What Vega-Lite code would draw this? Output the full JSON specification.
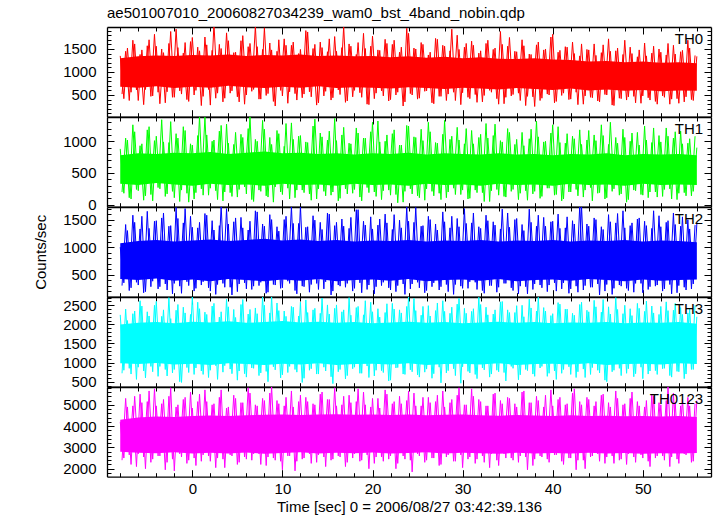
{
"$schema":"https://vega.github.io/schema/vega-lite/v6.json",
"background":"white",
"padding":{"left":33,"top":5,"right":4,"bottom":0},
"spacing":0,
"bounds":"flush",
"config":{
"view":{"stroke":null},
"font":"Liberation Sans",
"axis":{"labelFont":"Liberation Sans","labelFontSize":15,"labelColor":"#000","titleFont":"Liberation Sans","titleFontSize":15,"titleFontWeight":"normal","titleColor":"#000","domainColor":"#000","domainWidth":1.3,"tickColor":"#000","tickWidth":1,"grid":false,"labelOverlap":false,"labelFlush":false,"format":"d","minExtent":0},
"title":{"font":"Liberation Sans","fontSize":15,"fontWeight":"normal","color":"#000","anchor":"start","frame":"group","offset":3},
"text":{"font":"Liberation Sans","fontSize":15,"color":"#000","align":"right","baseline":"alphabetic"}
},
"datasets":{
"th0":[{"t":-8,"v":1350},{"t":-7.6,"v":420},{"t":-7.2,"v":1520},{"t":-6.8,"v":560},{"t":-6.4,"v":1610},{"t":-6,"v":380},{"t":-5.6,"v":1480},{"t":-5.2,"v":620},{"t":-4.8,"v":1700},{"t":-4.4,"v":480},
{"t":-4,"v":1560},{"t":-3.6,"v":310},{"t":-3.2,"v":1420},{"t":-2.8,"v":570},{"t":-2.4,"v":1880},{"t":-2,"v":450},{"t":-1.6,"v":1530},{"t":-1.2,"v":520},{"t":-0.8,"v":1640},{"t":-0.4,"v":360},
{"t":0,"v":1750},{"t":0.4,"v":600},{"t":0.8,"v":1460},{"t":1.2,"v":470},{"t":1.6,"v":1590},{"t":2,"v":280},{"t":2.4,"v":2050},{"t":2.8,"v":540},{"t":3.2,"v":1510},{"t":3.6,"v":430},
{"t":4,"v":1680},{"t":4.4,"v":590},{"t":4.8,"v":1430},{"t":5.2,"v":350},{"t":5.6,"v":1790},{"t":6,"v":500},{"t":6.4,"v":1620},{"t":6.8,"v":620},{"t":7.2,"v":1550},{"t":7.6,"v":410},
{"t":8,"v":1960},{"t":8.4,"v":530},{"t":8.8,"v":1480},{"t":9.2,"v":260},{"t":9.6,"v":1700},{"t":10,"v":480},{"t":10.4,"v":1580},{"t":10.8,"v":570},{"t":11.2,"v":1650},{"t":11.6,"v":390},
{"t":12,"v":1490},{"t":12.4,"v":520},{"t":12.8,"v":1870},{"t":13.2,"v":460},{"t":13.6,"v":1600},{"t":14,"v":330},{"t":14.4,"v":1530},{"t":14.8,"v":580},{"t":15.2,"v":1720},{"t":15.6,"v":440},
{"t":16,"v":1450},{"t":16.4,"v":510},{"t":16.8,"v":1990},{"t":17.2,"v":370},{"t":17.6,"v":1560},{"t":18,"v":600},{"t":18.4,"v":1640},{"t":18.8,"v":450},{"t":19.2,"v":1510},{"t":19.6,"v":290},
{"t":20,"v":1780},{"t":20.4,"v":540},{"t":20.8,"v":1470},{"t":21.2,"v":480},{"t":21.6,"v":1620},{"t":22,"v":400},{"t":22.4,"v":1690},{"t":22.8,"v":560},{"t":23.2,"v":1540},{"t":23.6,"v":350},
{"t":24,"v":1840},{"t":24.4,"v":500},{"t":24.8,"v":1500},{"t":25.2,"v":430},{"t":25.6,"v":1600},{"t":26,"v":590},{"t":26.4,"v":1430},{"t":26.8,"v":310},{"t":27.2,"v":1710},{"t":27.6,"v":470},
{"t":28,"v":1560},{"t":28.4,"v":520},{"t":28.8,"v":1930},{"t":29.2,"v":380},{"t":29.6,"v":1490},{"t":30,"v":550},{"t":30.4,"v":1620},{"t":30.8,"v":420},{"t":31.2,"v":1580},{"t":31.6,"v":340},
{"t":32,"v":1460},{"t":32.4,"v":490},{"t":32.8,"v":1690},{"t":33.2,"v":560},{"t":33.6,"v":1520},{"t":34,"v":300},{"t":34.4,"v":1600},{"t":34.8,"v":450},{"t":35.2,"v":1750},{"t":35.6,"v":510},
{"t":36,"v":1440},{"t":36.4,"v":380},{"t":36.8,"v":1570},{"t":37.2,"v":470},{"t":37.6,"v":1380},{"t":38,"v":250},{"t":38.4,"v":1650},{"t":38.8,"v":430},{"t":39.2,"v":1500},{"t":39.6,"v":500},
{"t":40,"v":1820},{"t":40.4,"v":360},{"t":40.8,"v":1470},{"t":41.2,"v":540},{"t":41.6,"v":1540},{"t":42,"v":410},{"t":42.4,"v":1400},{"t":42.8,"v":290},{"t":43.2,"v":1610},{"t":43.6,"v":480},
{"t":44,"v":1480},{"t":44.4,"v":440},{"t":44.8,"v":1360},{"t":45.2,"v":350},{"t":45.6,"v":1590},{"t":46,"v":500},{"t":46.4,"v":1450},{"t":46.8,"v":270},{"t":47.2,"v":1520},{"t":47.6,"v":420},
{"t":48,"v":1690},{"t":48.4,"v":460},{"t":48.8,"v":1400},{"t":49.2,"v":330},{"t":49.6,"v":1480},{"t":50,"v":480},{"t":50.4,"v":1350},{"t":50.8,"v":390},{"t":51.2,"v":1560},{"t":51.6,"v":300},
{"t":52,"v":1430},{"t":52.4,"v":450},{"t":52.8,"v":1620},{"t":53.2,"v":410},{"t":53.6,"v":1390},{"t":54,"v":320},{"t":54.4,"v":1470},{"t":54.8,"v":460},{"t":55.2,"v":1520},{"t":55.6,"v":380},
{"t":56,"v":1340}],
"th0b":[{"t":-7.8,"v":520},{"t":-7.4,"v":1450},{"t":-7,"v":380},{"t":-6.6,"v":1690},{"t":-6.2,"v":610},{"t":-5.8,"v":1380},{"t":-5.4,"v":290},{"t":-5,"v":1570},{"t":-4.6,"v":470},{"t":-4.2,"v":1820},
{"t":-3.8,"v":560},{"t":-3.4,"v":1500},{"t":-3,"v":330},{"t":-2.6,"v":1620},{"t":-2.2,"v":450},{"t":-1.8,"v":1930},{"t":-1.4,"v":590},{"t":-1,"v":1410},{"t":-0.6,"v":400},{"t":-0.2,"v":1660},
{"t":0.2,"v":500},{"t":0.6,"v":1540},{"t":1,"v":270},{"t":1.4,"v":1760},{"t":1.8,"v":620},{"t":2.2,"v":1470},{"t":2.6,"v":430},{"t":3,"v":1600},{"t":3.4,"v":350},{"t":3.8,"v":1850},
{"t":4.2,"v":540},{"t":4.6,"v":1420},{"t":5,"v":460},{"t":5.4,"v":1680},{"t":5.8,"v":300},{"t":6.2,"v":1550},{"t":6.6,"v":580},{"t":7,"v":2000},{"t":7.4,"v":410},{"t":7.8,"v":1490},
{"t":8.2,"v":490},{"t":8.6,"v":1630},{"t":9,"v":360},{"t":9.4,"v":1450},{"t":9.8,"v":600},{"t":10.2,"v":1720},{"t":10.6,"v":320},{"t":11,"v":1580},{"t":11.4,"v":530},{"t":11.8,"v":1400},
{"t":12.2,"v":440},{"t":12.6,"v":1900},{"t":13,"v":570},{"t":13.4,"v":1510},{"t":13.8,"v":280},{"t":14.2,"v":1650},{"t":14.6,"v":480},{"t":15,"v":1440},{"t":15.4,"v":390},{"t":15.8,"v":1770},
{"t":16.2,"v":610},{"t":16.6,"v":1530},{"t":17,"v":340},{"t":17.4,"v":1610},{"t":17.8,"v":460},{"t":18.2,"v":1380},{"t":18.6,"v":550},{"t":19,"v":1840},{"t":19.4,"v":300},{"t":19.8,"v":1560},
{"t":20.2,"v":420},{"t":20.6,"v":1480},{"t":21,"v":590},{"t":21.4,"v":1710},{"t":21.8,"v":370},{"t":22.2,"v":1600},{"t":22.6,"v":500},{"t":23,"v":1430},{"t":23.4,"v":260},{"t":23.8,"v":1950},
{"t":24.2,"v":530},{"t":24.6,"v":1520},{"t":25,"v":410},{"t":25.4,"v":1640},{"t":25.8,"v":580},{"t":26.2,"v":1370},{"t":26.6,"v":330},{"t":27,"v":1730},{"t":27.4,"v":470},{"t":27.8,"v":1580},
{"t":28.2,"v":380},{"t":28.6,"v":1460},{"t":29,"v":560},{"t":29.4,"v":1800},{"t":29.8,"v":290},{"t":30.2,"v":1540},{"t":30.6,"v":450},{"t":31,"v":1670},{"t":31.4,"v":510},{"t":31.8,"v":1410},
{"t":32.2,"v":350},{"t":32.6,"v":1620},{"t":33,"v":600},{"t":33.4,"v":1490},{"t":33.8,"v":420},{"t":34.2,"v":1880},{"t":34.6,"v":310},{"t":35,"v":1560},{"t":35.4,"v":480},{"t":35.8,"v":1450},
{"t":36.2,"v":540},{"t":36.6,"v":1700},{"t":37,"v":270},{"t":37.4,"v":1390},{"t":37.8,"v":460},{"t":38.2,"v":1590},{"t":38.6,"v":380},{"t":39,"v":1480},{"t":39.4,"v":520},{"t":39.8,"v":1760},
{"t":40.2,"v":330},{"t":40.6,"v":1430},{"t":41,"v":490},{"t":41.4,"v":1550},{"t":41.8,"v":400},{"t":42.2,"v":1650},{"t":42.6,"v":560},{"t":43,"v":1350},{"t":43.4,"v":300},{"t":43.8,"v":1490},
{"t":44.2,"v":450},{"t":44.6,"v":1610},{"t":45,"v":370},{"t":45.4,"v":1420},{"t":45.8,"v":510},{"t":46.2,"v":1720},{"t":46.6,"v":280},{"t":47,"v":1460},{"t":47.4,"v":430},{"t":47.8,"v":1380},
{"t":48.2,"v":390},{"t":48.6,"v":1540},{"t":49,"v":470},{"t":49.4,"v":1330},{"t":49.8,"v":320},{"t":50.2,"v":1630},{"t":50.6,"v":440},{"t":51,"v":1410},{"t":51.4,"v":360},{"t":51.8,"v":1500},
{"t":52.2,"v":480},{"t":52.6,"v":1370},{"t":53,"v":300},{"t":53.4,"v":1580},{"t":53.8,"v":420},{"t":54.2,"v":1440},{"t":54.6,"v":350},{"t":55,"v":1690},{"t":55.4,"v":400},{"t":55.8,"v":1360}],
"th1":[{"t":-8,"v":880},{"t":-7.6,"v":180},{"t":-7.2,"v":1020},{"t":-6.8,"v":90},{"t":-6.4,"v":1150},{"t":-6,"v":220},{"t":-5.6,"v":960},{"t":-5.2,"v":140},{"t":-4.8,"v":1230},{"t":-4.4,"v":60},
{"t":-4,"v":1080},{"t":-3.6,"v":250},{"t":-3.2,"v":990},{"t":-2.8,"v":170},{"t":-2.4,"v":1310},{"t":-2,"v":110},{"t":-1.6,"v":1050},{"t":-1.2,"v":230},{"t":-0.8,"v":1170},{"t":-0.4,"v":40},
{"t":0,"v":940},{"t":0.4,"v":190},{"t":0.8,"v":1390},{"t":1.2,"v":150},{"t":1.6,"v":1100},{"t":2,"v":260},{"t":2.4,"v":1020},{"t":2.8,"v":80},{"t":3.2,"v":1250},{"t":3.6,"v":200},
{"t":4,"v":970},{"t":4.4,"v":130},{"t":4.8,"v":1140},{"t":5.2,"v":240},{"t":5.6,"v":1060},{"t":6,"v":170},{"t":6.4,"v":1400},{"t":6.8,"v":50},{"t":7.2,"v":1000},{"t":7.6,"v":210},
{"t":8,"v":1190},{"t":8.4,"v":120},{"t":8.8,"v":950},{"t":9.2,"v":280},{"t":9.6,"v":1120},{"t":10,"v":160},{"t":10.4,"v":1280},{"t":10.8,"v":90},{"t":11.2,"v":1030},{"t":11.6,"v":230},
{"t":12,"v":1090},{"t":12.4,"v":190},{"t":12.8,"v":980},{"t":13.2,"v":70},{"t":13.6,"v":1350},{"t":14,"v":250},{"t":14.4,"v":1070},{"t":14.8,"v":140},{"t":15.2,"v":1160},{"t":15.6,"v":200},
{"t":16,"v":1010},{"t":16.4,"v":100},{"t":16.8,"v":1220},{"t":17.2,"v":170},{"t":17.6,"v":960},{"t":18,"v":240},{"t":18.4,"v":1130},{"t":18.8,"v":60},{"t":19.2,"v":1050},{"t":19.6,"v":190},
{"t":20,"v":1300},{"t":20.4,"v":130},{"t":20.8,"v":990},{"t":21.2,"v":220},{"t":21.6,"v":1100},{"t":22,"v":150},{"t":22.4,"v":1180},{"t":22.8,"v":30},{"t":23.2,"v":940},{"t":23.6,"v":210},
{"t":24,"v":1240},{"t":24.4,"v":170},{"t":24.8,"v":1060},{"t":25.2,"v":110},{"t":25.6,"v":1010},{"t":26,"v":250},{"t":26.4,"v":1150},{"t":26.8,"v":140},{"t":27.2,"v":970},{"t":27.6,"v":80},
{"t":28,"v":1330},{"t":28.4,"v":200},{"t":28.8,"v":1080},{"t":29.2,"v":160},{"t":29.6,"v":1020},{"t":30,"v":230},{"t":30.4,"v":1200},{"t":30.8,"v":100},{"t":31.2,"v":960},{"t":31.6,"v":190},
{"t":32,"v":1110},{"t":32.4,"v":50},{"t":32.8,"v":1050},{"t":33.2,"v":220},{"t":33.6,"v":1270},{"t":34,"v":150},{"t":34.4,"v":990},{"t":34.8,"v":120},{"t":35.2,"v":1140},{"t":35.6,"v":240},
{"t":36,"v":1030},{"t":36.4,"v":180},{"t":36.8,"v":930},{"t":37.2,"v":70},{"t":37.6,"v":1190},{"t":38,"v":210},{"t":38.4,"v":1070},{"t":38.8,"v":130},{"t":39.2,"v":1000},{"t":39.6,"v":260},
{"t":40,"v":1260},{"t":40.4,"v":160},{"t":40.8,"v":980},{"t":41.2,"v":90},{"t":41.6,"v":1120},{"t":42,"v":200},{"t":42.4,"v":1040},{"t":42.8,"v":140},{"t":43.2,"v":950},{"t":43.6,"v":230},
{"t":44,"v":1170},{"t":44.4,"v":60},{"t":44.8,"v":1010},{"t":45.2,"v":190},{"t":45.6,"v":1090},{"t":46,"v":110},{"t":46.4,"v":1300},{"t":46.8,"v":250},{"t":47.2,"v":970},{"t":47.6,"v":170},
{"t":48,"v":1060},{"t":48.4,"v":80},{"t":48.8,"v":1130},{"t":49.2,"v":220},{"t":49.6,"v":940},{"t":50,"v":150},{"t":50.4,"v":1020},{"t":50.8,"v":200},{"t":51.2,"v":1210},{"t":51.6,"v":120},
{"t":52,"v":990},{"t":52.4,"v":240},{"t":52.8,"v":1080},{"t":53.2,"v":90},{"t":53.6,"v":1150},{"t":54,"v":180},{"t":54.4,"v":960},{"t":54.8,"v":140},{"t":55.2,"v":1040},{"t":55.6,"v":210},
{"t":56,"v":900}],
"th1b":[{"t":-7.8,"v":200},{"t":-7.4,"v":1050},{"t":-7,"v":110},{"t":-6.6,"v":1260},{"t":-6.2,"v":240},{"t":-5.8,"v":930},{"t":-5.4,"v":70},{"t":-5,"v":1180},{"t":-4.6,"v":160},{"t":-4.2,"v":1010},
{"t":-3.8,"v":270},{"t":-3.4,"v":1340},{"t":-3,"v":130},{"t":-2.6,"v":980},{"t":-2.2,"v":210},{"t":-1.8,"v":1120},{"t":-1.4,"v":50},{"t":-1,"v":1230},{"t":-0.6,"v":180},{"t":-0.2,"v":960},
{"t":0.2,"v":90},{"t":0.6,"v":1090},{"t":1,"v":250},{"t":1.4,"v":1380},{"t":1.8,"v":150},{"t":2.2,"v":1000},{"t":2.6,"v":220},{"t":3,"v":1160},{"t":3.4,"v":60},{"t":3.8,"v":1270},
{"t":4.2,"v":190},{"t":4.6,"v":950},{"t":5,"v":120},{"t":5.4,"v":1110},{"t":5.8,"v":280},{"t":6.2,"v":1200},{"t":6.6,"v":80},{"t":7,"v":1030},{"t":7.4,"v":230},{"t":7.8,"v":1330},
{"t":8.2,"v":140},{"t":8.6,"v":1060},{"t":9,"v":40},{"t":9.4,"v":1170},{"t":9.8,"v":200},{"t":10.2,"v":920},{"t":10.6,"v":260},{"t":11,"v":1290},{"t":11.4,"v":110},{"t":11.8,"v":1080},
{"t":12.2,"v":230},{"t":12.6,"v":990},{"t":13,"v":170},{"t":13.4,"v":1240},{"t":13.8,"v":90},{"t":14.2,"v":1130},{"t":14.6,"v":210},{"t":15,"v":1020},{"t":15.4,"v":150},{"t":15.8,"v":1360},
{"t":16.2,"v":60},{"t":16.6,"v":1100},{"t":17,"v":250},{"t":17.4,"v":970},{"t":17.8,"v":180},{"t":18.2,"v":1210},{"t":18.6,"v":120},{"t":19,"v":1050},{"t":19.4,"v":270},{"t":19.8,"v":1150},
{"t":20.2,"v":200},{"t":20.6,"v":1320},{"t":21,"v":80},{"t":21.4,"v":1000},{"t":21.8,"v":230},{"t":22.2,"v":1120},{"t":22.6,"v":160},{"t":23,"v":940},{"t":23.4,"v":40},{"t":23.8,"v":1250},
{"t":24.2,"v":250},{"t":24.6,"v":1070},{"t":25,"v":140},{"t":25.4,"v":1190},{"t":25.8,"v":70},{"t":26.2,"v":1300},{"t":26.6,"v":210},{"t":27,"v":980},{"t":27.4,"v":180},{"t":27.8,"v":1110},
{"t":28.2,"v":110},{"t":28.6,"v":1030},{"t":29,"v":260},{"t":29.4,"v":1220},{"t":29.8,"v":160},{"t":30.2,"v":960},{"t":30.6,"v":90},{"t":31,"v":1170},{"t":31.4,"v":230},{"t":31.8,"v":1060},
{"t":32.2,"v":190},{"t":32.6,"v":1280},{"t":33,"v":50},{"t":33.4,"v":1090},{"t":33.8,"v":240},{"t":34.2,"v":1010},{"t":34.6,"v":130},{"t":35,"v":1200},{"t":35.4,"v":210},{"t":35.8,"v":950},
{"t":36.2,"v":80},{"t":36.6,"v":1140},{"t":37,"v":220},{"t":37.4,"v":1040},{"t":37.8,"v":170},{"t":38.2,"v":1320},{"t":38.6,"v":100},{"t":39,"v":990},{"t":39.4,"v":260},{"t":39.8,"v":1130},
{"t":40.2,"v":150},{"t":40.6,"v":1230},{"t":41,"v":60},{"t":41.4,"v":970},{"t":41.8,"v":200},{"t":42.2,"v":1080},{"t":42.6,"v":240},{"t":43,"v":1180},{"t":43.4,"v":120},{"t":43.8,"v":1020},
{"t":44.2,"v":270},{"t":44.6,"v":1100},{"t":45,"v":180},{"t":45.4,"v":1260},{"t":45.8,"v":90},{"t":46.2,"v":950},{"t":46.6,"v":210},{"t":47,"v":1060},{"t":47.4,"v":150},{"t":47.8,"v":1190},
{"t":48.2,"v":40},{"t":48.6,"v":1000},{"t":49,"v":230},{"t":49.4,"v":1140},{"t":49.8,"v":160},{"t":50.2,"v":1240},{"t":50.6,"v":110},{"t":51,"v":980},{"t":51.4,"v":200},{"t":51.8,"v":1090},
{"t":52.2,"v":130},{"t":52.6,"v":1210},{"t":53,"v":250},{"t":53.4,"v":1050},{"t":53.8,"v":80},{"t":54.2,"v":1160},{"t":54.6,"v":190},{"t":55,"v":970},{"t":55.4,"v":140},{"t":55.8,"v":1080}],
"th2":[{"t":-8,"v":1000},{"t":-7.6,"v":350},{"t":-7.2,"v":1300},{"t":-6.8,"v":260},{"t":-6.4,"v":1450},{"t":-6,"v":310},{"t":-5.6,"v":1560},{"t":-5.2,"v":190},{"t":-4.8,"v":1340},{"t":-4.4,"v":380},
{"t":-4,"v":1480},{"t":-3.6,"v":280},{"t":-3.2,"v":1620},{"t":-2.8,"v":220},{"t":-2.4,"v":1390},{"t":-2,"v":340},{"t":-1.6,"v":1520},{"t":-1.2,"v":160},{"t":-0.8,"v":1700},{"t":-0.4,"v":300},
{"t":0,"v":1360},{"t":0.4,"v":250},{"t":0.8,"v":1450},{"t":1.2,"v":370},{"t":1.6,"v":1580},{"t":2,"v":200},{"t":2.4,"v":1310},{"t":2.8,"v":320},{"t":3.2,"v":1760},{"t":3.6,"v":270},
{"t":4,"v":1420},{"t":4.4,"v":130},{"t":4.8,"v":1530},{"t":5.2,"v":330},{"t":5.6,"v":1350},{"t":6,"v":240},{"t":6.4,"v":1470},{"t":6.8,"v":290},{"t":7.2,"v":1640},{"t":7.6,"v":360},
{"t":8,"v":1380},{"t":8.4,"v":180},{"t":8.8,"v":1500},{"t":9.2,"v":310},{"t":9.6,"v":1290},{"t":10,"v":260},{"t":10.4,"v":1560},{"t":10.8,"v":340},{"t":11.2,"v":1430},{"t":11.6,"v":150},
{"t":12,"v":1750},{"t":12.4,"v":280},{"t":12.8,"v":1370},{"t":13.2,"v":320},{"t":13.6,"v":1490},{"t":14,"v":230},{"t":14.4,"v":1320},{"t":14.8,"v":370},{"t":15.2,"v":1600},{"t":15.6,"v":200},
{"t":16,"v":1450},{"t":16.4,"v":290},{"t":16.8,"v":1380},{"t":17.2,"v":340},{"t":17.6,"v":1540},{"t":18,"v":250},{"t":18.4,"v":1680},{"t":18.8,"v":170},{"t":19.2,"v":1400},{"t":19.6,"v":310},
{"t":20,"v":1330},{"t":20.4,"v":280},{"t":20.8,"v":1510},{"t":21.2,"v":360},{"t":21.6,"v":1440},{"t":22,"v":220},{"t":22.4,"v":1590},{"t":22.8,"v":300},{"t":23.2,"v":1350},{"t":23.6,"v":140},
{"t":24,"v":1470},{"t":24.4,"v":330},{"t":24.8,"v":1720},{"t":25.2,"v":260},{"t":25.6,"v":1390},{"t":26,"v":210},{"t":26.4,"v":1500},{"t":26.8,"v":350},{"t":27.2,"v":1310},{"t":27.6,"v":280},
{"t":28,"v":1460},{"t":28.4,"v":190},{"t":28.8,"v":1560},{"t":29.2,"v":320},{"t":29.6,"v":1370},{"t":30,"v":250},{"t":30.4,"v":1430},{"t":30.8,"v":370},{"t":31.2,"v":1620},{"t":31.6,"v":230},
{"t":32,"v":1340},{"t":32.4,"v":160},{"t":32.8,"v":1480},{"t":33.2,"v":300},{"t":33.6,"v":1400},{"t":34,"v":270},{"t":34.4,"v":1690},{"t":34.8,"v":340},{"t":35.2,"v":1360},{"t":35.6,"v":210},
{"t":36,"v":1520},{"t":36.4,"v":290},{"t":36.8,"v":1300},{"t":37.2,"v":150},{"t":37.6,"v":1450},{"t":38,"v":330},{"t":38.4,"v":1580},{"t":38.8,"v":260},{"t":39.2,"v":1380},{"t":39.6,"v":310},
{"t":40,"v":1470},{"t":40.4,"v":200},{"t":40.8,"v":1340},{"t":41.2,"v":350},{"t":41.6,"v":1550},{"t":42,"v":240},{"t":42.4,"v":1420},{"t":42.8,"v":180},{"t":43.2,"v":1740},{"t":43.6,"v":300},
{"t":44,"v":1380},{"t":44.4,"v":270},{"t":44.8,"v":1500},{"t":45.2,"v":130},{"t":45.6,"v":1320},{"t":46,"v":320},{"t":46.4,"v":1460},{"t":46.8,"v":250},{"t":47.2,"v":1610},{"t":47.6,"v":290},
{"t":48,"v":1350},{"t":48.4,"v":210},{"t":48.8,"v":1440},{"t":49.2,"v":340},{"t":49.6,"v":1530},{"t":50,"v":170},{"t":50.4,"v":1390},{"t":50.8,"v":280},{"t":51.2,"v":1660},{"t":51.6,"v":310},
{"t":52,"v":1370},{"t":52.4,"v":240},{"t":52.8,"v":1480},{"t":53.2,"v":150},{"t":53.6,"v":1410},{"t":54,"v":300},{"t":54.4,"v":1550},{"t":54.8,"v":220},{"t":55.2,"v":1330},{"t":55.6,"v":330},
{"t":56,"v":1420}],
"th2b":[{"t":-7.8,"v":300},{"t":-7.4,"v":1410},{"t":-7,"v":210},{"t":-6.6,"v":1580},{"t":-6.2,"v":360},{"t":-5.8,"v":1330},{"t":-5.4,"v":170},{"t":-5,"v":1650},{"t":-4.6,"v":280},{"t":-4.2,"v":1470},
{"t":-3.8,"v":240},{"t":-3.4,"v":1530},{"t":-3,"v":330},{"t":-2.6,"v":1380},{"t":-2.2,"v":150},{"t":-1.8,"v":1720},{"t":-1.4,"v":290},{"t":-1,"v":1440},{"t":-0.6,"v":370},{"t":-0.2,"v":1560},
{"t":0.2,"v":200},{"t":0.6,"v":1350},{"t":1,"v":310},{"t":1.4,"v":1610},{"t":1.8,"v":260},{"t":2.2,"v":1480},{"t":2.6,"v":140},{"t":3,"v":1390},{"t":3.4,"v":340},{"t":3.8,"v":1700},
{"t":4.2,"v":270},{"t":4.6,"v":1460},{"t":5,"v":190},{"t":5.4,"v":1540},{"t":5.8,"v":350},{"t":6.2,"v":1310},{"t":6.6,"v":230},{"t":7,"v":1660},{"t":7.4,"v":300},{"t":7.8,"v":1420},
{"t":8.2,"v":160},{"t":8.6,"v":1590},{"t":9,"v":320},{"t":9.4,"v":1370},{"t":9.8,"v":250},{"t":10.2,"v":1500},{"t":10.6,"v":380},{"t":11,"v":1740},{"t":11.4,"v":210},{"t":11.8,"v":1430},
{"t":12.2,"v":290},{"t":12.6,"v":1360},{"t":13,"v":180},{"t":13.4,"v":1570},{"t":13.8,"v":340},{"t":14.2,"v":1450},{"t":14.6,"v":240},{"t":15,"v":1620},{"t":15.4,"v":130},{"t":15.8,"v":1390},
{"t":16.2,"v":310},{"t":16.6,"v":1510},{"t":17,"v":270},{"t":17.4,"v":1340},{"t":17.8,"v":200},{"t":18.2,"v":1680},{"t":18.6,"v":350},{"t":19,"v":1470},{"t":19.4,"v":230},{"t":19.8,"v":1550},
{"t":20.2,"v":150},{"t":20.6,"v":1400},{"t":21,"v":300},{"t":21.4,"v":1600},{"t":21.8,"v":260},{"t":22.2,"v":1320},{"t":22.6,"v":190},{"t":23,"v":1490},{"t":23.4,"v":330},{"t":23.8,"v":1730},
{"t":24.2,"v":240},{"t":24.6,"v":1450},{"t":25,"v":360},{"t":25.4,"v":1380},{"t":25.8,"v":170},{"t":26.2,"v":1560},{"t":26.6,"v":280},{"t":27,"v":1420},{"t":27.4,"v":220},{"t":27.8,"v":1640},
{"t":28.2,"v":320},{"t":28.6,"v":1350},{"t":29,"v":140},{"t":29.4,"v":1520},{"t":29.8,"v":290},{"t":30.2,"v":1700},{"t":30.6,"v":250},{"t":31,"v":1440},{"t":31.4,"v":360},{"t":31.8,"v":1370},
{"t":32.2,"v":210},{"t":32.6,"v":1580},{"t":33,"v":300},{"t":33.4,"v":1460},{"t":33.8,"v":180},{"t":34.2,"v":1330},{"t":34.6,"v":340},{"t":35,"v":1620},{"t":35.4,"v":260},{"t":35.8,"v":1500},
{"t":36.2,"v":150},{"t":36.6,"v":1410},{"t":37,"v":280},{"t":37.4,"v":1690},{"t":37.8,"v":230},{"t":38.2,"v":1380},{"t":38.6,"v":310},{"t":39,"v":1540},{"t":39.4,"v":190},{"t":39.8,"v":1460},
{"t":40.2,"v":350},{"t":40.6,"v":1600},{"t":41,"v":240},{"t":41.4,"v":1350},{"t":41.8,"v":160},{"t":42.2,"v":1480},{"t":42.6,"v":290},{"t":43,"v":1750},{"t":43.4,"v":220},{"t":43.8,"v":1420},
{"t":44.2,"v":270},{"t":44.6,"v":1530},{"t":45,"v":330},{"t":45.4,"v":1370},{"t":45.8,"v":200},{"t":46.2,"v":1590},{"t":46.6,"v":140},{"t":47,"v":1440},{"t":47.4,"v":310},{"t":47.8,"v":1660},
{"t":48.2,"v":250},{"t":48.6,"v":1390},{"t":49,"v":180},{"t":49.4,"v":1510},{"t":49.8,"v":340},{"t":50.2,"v":1470},{"t":50.6,"v":230},{"t":51,"v":1340},{"t":51.4,"v":290},{"t":51.8,"v":1570},
{"t":52.2,"v":200},{"t":52.6,"v":1450},{"t":53,"v":320},{"t":53.4,"v":1620},{"t":53.8,"v":170},{"t":54.2,"v":1380},{"t":54.6,"v":270},{"t":55,"v":1500},{"t":55.4,"v":240},{"t":55.8,"v":1400}],
"th3":[{"t":-8,"v":2250},{"t":-7.6,"v":800},{"t":-7.2,"v":2100},{"t":-6.8,"v":700},{"t":-6.4,"v":2350},{"t":-6,"v":880},{"t":-5.6,"v":2480},{"t":-5.2,"v":600},{"t":-4.8,"v":2220},{"t":-4.4,"v":760},
{"t":-4,"v":2600},{"t":-3.6,"v":900},{"t":-3.2,"v":2380},{"t":-2.8,"v":650},{"t":-2.4,"v":2150},{"t":-2,"v":820},{"t":-1.6,"v":2520},{"t":-1.2,"v":480},{"t":-0.8,"v":2300},{"t":-0.4,"v":740},
{"t":0,"v":2720},{"t":0.4,"v":860},{"t":0.8,"v":2410},{"t":1.2,"v":690},{"t":1.6,"v":2260},{"t":2,"v":800},{"t":2.4,"v":2550},{"t":2.8,"v":560},{"t":3.2,"v":2330},{"t":3.6,"v":920},
{"t":4,"v":2460},{"t":4.4,"v":710},{"t":4.8,"v":2180},{"t":5.2,"v":780},{"t":5.6,"v":2650},{"t":6,"v":620},{"t":6.4,"v":2390},{"t":6.8,"v":850},{"t":7.2,"v":2280},{"t":7.6,"v":730},
{"t":8,"v":2500},{"t":8.4,"v":500},{"t":8.8,"v":2740},{"t":9.2,"v":810},{"t":9.6,"v":2360},{"t":10,"v":680},{"t":10.4,"v":2210},{"t":10.8,"v":900},{"t":11.2,"v":2450},{"t":11.6,"v":750},
{"t":12,"v":2580},{"t":12.4,"v":590},{"t":12.8,"v":2310},{"t":13.2,"v":840},{"t":13.6,"v":2420},{"t":14,"v":700},{"t":14.4,"v":2690},{"t":14.8,"v":780},{"t":15.2,"v":2270},{"t":15.6,"v":450},
{"t":16,"v":2510},{"t":16.4,"v":820},{"t":16.8,"v":2380},{"t":17.2,"v":660},{"t":17.6,"v":2240},{"t":18,"v":880},{"t":18.4,"v":2470},{"t":18.8,"v":720},{"t":19.2,"v":2620},{"t":19.6,"v":610},
{"t":20,"v":2330},{"t":20.4,"v":800},{"t":20.8,"v":2190},{"t":21.2,"v":740},{"t":21.6,"v":2540},{"t":22,"v":540},{"t":22.4,"v":2400},{"t":22.8,"v":870},{"t":23.2,"v":2300},{"t":23.6,"v":690},
{"t":24,"v":2730},{"t":24.4,"v":760},{"t":24.8,"v":2360},{"t":25.2,"v":620},{"t":25.6,"v":2470},{"t":26,"v":830},{"t":26.4,"v":2220},{"t":26.8,"v":710},{"t":27.2,"v":2560},{"t":27.6,"v":470},
{"t":28,"v":2340},{"t":28.4,"v":790},{"t":28.8,"v":2450},{"t":29.2,"v":660},{"t":29.6,"v":2680},{"t":30,"v":890},{"t":30.4,"v":2290},{"t":30.8,"v":730},{"t":31.2,"v":2410},{"t":31.6,"v":580},
{"t":32,"v":2520},{"t":32.4,"v":810},{"t":32.8,"v":2250},{"t":33.2,"v":700},{"t":33.6,"v":2380},{"t":34,"v":760},{"t":34.4,"v":2600},{"t":34.8,"v":520},{"t":35.2,"v":2310},{"t":35.6,"v":850},
{"t":36,"v":2490},{"t":36.4,"v":680},{"t":36.8,"v":2200},{"t":37.2,"v":790},{"t":37.6,"v":2430},{"t":38,"v":640},{"t":38.4,"v":2710},{"t":38.8,"v":900},{"t":39.2,"v":2350},{"t":39.6,"v":720},
{"t":40,"v":2280},{"t":40.4,"v":560},{"t":40.8,"v":2530},{"t":41.2,"v":820},{"t":41.6,"v":2400},{"t":42,"v":690},{"t":42.4,"v":2240},{"t":42.8,"v":760},{"t":43.2,"v":2580},{"t":43.6,"v":610},
{"t":44,"v":2330},{"t":44.4,"v":870},{"t":44.8,"v":2460},{"t":45.2,"v":730},{"t":45.6,"v":2650},{"t":46,"v":500},{"t":46.4,"v":2270},{"t":46.8,"v":800},{"t":47.2,"v":2390},{"t":47.6,"v":660},
{"t":48,"v":2500},{"t":48.4,"v":840},{"t":48.8,"v":2230},{"t":49.2,"v":710},{"t":49.6,"v":2420},{"t":50,"v":580},{"t":50.4,"v":2610},{"t":50.8,"v":780},{"t":51.2,"v":2300},{"t":51.6,"v":690},
{"t":52,"v":2470},{"t":52.4,"v":850},{"t":52.8,"v":2360},{"t":53.2,"v":620},{"t":53.6,"v":2550},{"t":54,"v":760},{"t":54.4,"v":2260},{"t":54.8,"v":700},{"t":55.2,"v":2400},{"t":55.6,"v":820},
{"t":56,"v":2200}],
"th3b":[{"t":-7.8,"v":720},{"t":-7.4,"v":2400},{"t":-7,"v":850},{"t":-6.6,"v":2280},{"t":-6.2,"v":560},{"t":-5.8,"v":2620},{"t":-5.4,"v":780},{"t":-5,"v":2330},{"t":-4.6,"v":900},{"t":-4.2,"v":2500},
{"t":-3.8,"v":640},{"t":-3.4,"v":2210},{"t":-3,"v":820},{"t":-2.6,"v":2700},{"t":-2.2,"v":730},{"t":-1.8,"v":2370},{"t":-1.4,"v":500},{"t":-1,"v":2450},{"t":-0.6,"v":870},{"t":-0.2,"v":2260},
{"t":0.2,"v":690},{"t":0.6,"v":2580},{"t":1,"v":780},{"t":1.4,"v":2320},{"t":1.8,"v":610},{"t":2.2,"v":2480},{"t":2.6,"v":920},{"t":3,"v":2190},{"t":3.4,"v":750},{"t":3.8,"v":2660},
{"t":4.2,"v":830},{"t":4.6,"v":2390},{"t":5,"v":540},{"t":5.4,"v":2520},{"t":5.8,"v":710},{"t":6.2,"v":2270},{"t":6.6,"v":860},{"t":7,"v":2430},{"t":7.4,"v":660},{"t":7.8,"v":2740},
{"t":8.2,"v":770},{"t":8.6,"v":2300},{"t":9,"v":890},{"t":9.4,"v":2560},{"t":9.8,"v":600},{"t":10.2,"v":2350},{"t":10.6,"v":740},{"t":11,"v":2470},{"t":11.4,"v":820},{"t":11.8,"v":2220},
{"t":12.2,"v":480},{"t":12.6,"v":2640},{"t":13,"v":800},{"t":13.4,"v":2380},{"t":13.8,"v":700},{"t":14.2,"v":2290},{"t":14.6,"v":880},{"t":15,"v":2510},{"t":15.4,"v":630},{"t":15.8,"v":2420},
{"t":16.2,"v":760},{"t":16.6,"v":2330},{"t":17,"v":570},{"t":17.4,"v":2700},{"t":17.8,"v":840},{"t":18.2,"v":2440},{"t":18.6,"v":720},{"t":19,"v":2250},{"t":19.4,"v":910},{"t":19.8,"v":2580},
{"t":20.2,"v":650},{"t":20.6,"v":2410},{"t":21,"v":790},{"t":21.4,"v":2310},{"t":21.8,"v":520},{"t":22.2,"v":2550},{"t":22.6,"v":860},{"t":23,"v":2380},{"t":23.4,"v":700},{"t":23.8,"v":2470},
{"t":24.2,"v":810},{"t":24.6,"v":2680},{"t":25,"v":680},{"t":25.4,"v":2240},{"t":25.8,"v":750},{"t":26.2,"v":2490},{"t":26.6,"v":590},{"t":27,"v":2360},{"t":27.4,"v":880},{"t":27.8,"v":2620},
{"t":28.2,"v":730},{"t":28.6,"v":2290},{"t":29,"v":840},{"t":29.4,"v":2530},{"t":29.8,"v":460},{"t":30.2,"v":2420},{"t":30.6,"v":770},{"t":31,"v":2340},{"t":31.4,"v":690},{"t":31.8,"v":2710},
{"t":32.2,"v":860},{"t":32.6,"v":2450},{"t":33,"v":620},{"t":33.4,"v":2270},{"t":33.8,"v":800},{"t":34.2,"v":2590},{"t":34.6,"v":740},{"t":35,"v":2380},{"t":35.4,"v":900},{"t":35.8,"v":2310},
{"t":36.2,"v":550},{"t":36.6,"v":2500},{"t":37,"v":820},{"t":37.4,"v":2660},{"t":37.8,"v":700},{"t":38.2,"v":2350},{"t":38.6,"v":860},{"t":39,"v":2440},{"t":39.4,"v":640},{"t":39.8,"v":2230},
{"t":40.2,"v":780},{"t":40.6,"v":2570},{"t":41,"v":720},{"t":41.4,"v":2400},{"t":41.8,"v":890},{"t":42.2,"v":2290},{"t":42.6,"v":610},{"t":43,"v":2520},{"t":43.4,"v":830},{"t":43.8,"v":2370},
{"t":44.2,"v":690},{"t":44.6,"v":2630},{"t":45,"v":800},{"t":45.4,"v":2320},{"t":45.8,"v":540},{"t":46.2,"v":2460},{"t":46.6,"v":760},{"t":47,"v":2700},{"t":47.4,"v":850},{"t":47.8,"v":2280},
{"t":48.2,"v":720},{"t":48.6,"v":2410},{"t":49,"v":630},{"t":49.4,"v":2550},{"t":49.8,"v":880},{"t":50.2,"v":2340},{"t":50.6,"v":700},{"t":51,"v":2480},{"t":51.4,"v":790},{"t":51.8,"v":2260},
{"t":52.2,"v":840},{"t":52.6,"v":2590},{"t":53,"v":660},{"t":53.4,"v":2370},{"t":53.8,"v":770},{"t":54.2,"v":2440},{"t":54.6,"v":580},{"t":55,"v":2300},{"t":55.4,"v":820},{"t":55.8,"v":2500}],
"th4":[{"t":-8,"v":4200},{"t":-7.6,"v":2500},{"t":-7.2,"v":4900},{"t":-6.8,"v":2200},{"t":-6.4,"v":5400},{"t":-6,"v":2700},{"t":-5.6,"v":5100},{"t":-5.2,"v":2000},{"t":-4.8,"v":5650},{"t":-4.4,"v":2450},
{"t":-4,"v":4950},{"t":-3.6,"v":2600},{"t":-3.2,"v":5250},{"t":-2.8,"v":2300},{"t":-2.4,"v":5800},{"t":-2,"v":1900},{"t":-1.6,"v":5000},{"t":-1.2,"v":2550},{"t":-0.8,"v":5350},{"t":-0.4,"v":2400},
{"t":0,"v":4850},{"t":0.4,"v":2150},{"t":0.8,"v":5500},{"t":1.2,"v":2650},{"t":1.6,"v":5150},{"t":2,"v":2350},{"t":2.4,"v":5050},{"t":2.8,"v":2500},{"t":3.2,"v":5700},{"t":3.6,"v":2050},
{"t":4,"v":4900},{"t":4.4,"v":2600},{"t":4.8,"v":5300},{"t":5.2,"v":2300},{"t":5.6,"v":5100},{"t":6,"v":2450},{"t":6.4,"v":5550},{"t":6.8,"v":2700},{"t":7.2,"v":4950},{"t":7.6,"v":2200},
{"t":8,"v":5200},{"t":8.4,"v":2550},{"t":8.8,"v":5850},{"t":9.2,"v":2400},{"t":9.6,"v":5050},{"t":10,"v":1950},{"t":10.4,"v":5350},{"t":10.8,"v":2600},{"t":11.2,"v":4900},{"t":11.6,"v":2350},
{"t":12,"v":5450},{"t":12.4,"v":2500},{"t":12.8,"v":5150},{"t":13.2,"v":2250},{"t":13.6,"v":5000},{"t":14,"v":2650},{"t":14.4,"v":5600},{"t":14.8,"v":2100},{"t":15.2,"v":5250},{"t":15.6,"v":2450},
{"t":16,"v":4950},{"t":16.4,"v":2550},{"t":16.8,"v":5400},{"t":17.2,"v":2300},{"t":17.6,"v":5100},{"t":18,"v":2700},{"t":18.4,"v":5750},{"t":18.8,"v":2400},{"t":19.2,"v":5000},{"t":19.6,"v":2000},
{"t":20,"v":5300},{"t":20.4,"v":2550},{"t":20.8,"v":4850},{"t":21.2,"v":2350},{"t":21.6,"v":5500},{"t":22,"v":2600},{"t":22.4,"v":5150},{"t":22.8,"v":2250},{"t":23.2,"v":5050},{"t":23.6,"v":2450},
{"t":24,"v":5650},{"t":24.4,"v":1850},{"t":24.8,"v":4950},{"t":25.2,"v":2600},{"t":25.6,"v":5350},{"t":26,"v":2400},{"t":26.4,"v":5100},{"t":26.8,"v":2500},{"t":27.2,"v":5450},{"t":27.6,"v":2200},
{"t":28,"v":4900},{"t":28.4,"v":2650},{"t":28.8,"v":5250},{"t":29.2,"v":2350},{"t":29.6,"v":5800},{"t":30,"v":2050},{"t":30.4,"v":5000},{"t":30.8,"v":2550},{"t":31.2,"v":5400},{"t":31.6,"v":2450},
{"t":32,"v":5150},{"t":32.4,"v":2300},{"t":32.8,"v":4950},{"t":33.2,"v":2700},{"t":33.6,"v":5550},{"t":34,"v":2150},{"t":34.4,"v":5050},{"t":34.8,"v":2500},{"t":35.2,"v":5300},{"t":35.6,"v":2400},
{"t":36,"v":4900},{"t":36.4,"v":2600},{"t":36.8,"v":5650},{"t":37.2,"v":1950},{"t":37.6,"v":5100},{"t":38,"v":2450},{"t":38.4,"v":5200},{"t":38.8,"v":2550},{"t":39.2,"v":5450},{"t":39.6,"v":2300},
{"t":40,"v":4950},{"t":40.4,"v":2650},{"t":40.8,"v":5350},{"t":41.2,"v":2200},{"t":41.6,"v":5050},{"t":42,"v":2500},{"t":42.4,"v":5750},{"t":42.8,"v":2400},{"t":43.2,"v":5000},{"t":43.6,"v":2000},
{"t":44,"v":5250},{"t":44.4,"v":2600},{"t":44.8,"v":5150},{"t":45.2,"v":2350},{"t":45.6,"v":5500},{"t":46,"v":2550},{"t":46.4,"v":4900},{"t":46.8,"v":2250},{"t":47.2,"v":5300},{"t":47.6,"v":2450},
{"t":48,"v":5050},{"t":48.4,"v":2700},{"t":48.8,"v":5600},{"t":49.2,"v":2300},{"t":49.6,"v":4950},{"t":50,"v":2500},{"t":50.4,"v":5200},{"t":50.8,"v":2100},{"t":51.2,"v":5400},{"t":51.6,"v":2600},
{"t":52,"v":5000},{"t":52.4,"v":2400},{"t":52.8,"v":5850},{"t":53.2,"v":2550},{"t":53.6,"v":5100},{"t":54,"v":2250},{"t":54.4,"v":5250},{"t":54.8,"v":2650},{"t":55.2,"v":4950},{"t":55.6,"v":2350},
{"t":56,"v":5200}],
"th4b":[{"t":-7.8,"v":2400},{"t":-7.4,"v":5300},{"t":-7,"v":2650},{"t":-6.6,"v":4950},{"t":-6.2,"v":2100},{"t":-5.8,"v":5500},{"t":-5.4,"v":2550},{"t":-5,"v":5150},{"t":-4.6,"v":2300},{"t":-4.2,"v":5750},
{"t":-3.8,"v":2600},{"t":-3.4,"v":5050},{"t":-3,"v":1950},{"t":-2.6,"v":5400},{"t":-2.2,"v":2450},{"t":-1.8,"v":4900},{"t":-1.4,"v":2700},{"t":-1,"v":5250},{"t":-0.6,"v":2250},{"t":-0.2,"v":5600},
{"t":0.2,"v":2500},{"t":0.6,"v":5150},{"t":1,"v":2350},{"t":1.4,"v":5700},{"t":1.8,"v":2600},{"t":2.2,"v":5000},{"t":2.6,"v":2050},{"t":3,"v":5350},{"t":3.4,"v":2450},{"t":3.8,"v":4850},
{"t":4.2,"v":2650},{"t":4.6,"v":5450},{"t":5,"v":2200},{"t":5.4,"v":5100},{"t":5.8,"v":2550},{"t":6.2,"v":5800},{"t":6.6,"v":2400},{"t":7,"v":5000},{"t":7.4,"v":2700},{"t":7.8,"v":5300},
{"t":8.2,"v":2150},{"t":8.6,"v":5550},{"t":9,"v":2500},{"t":9.4,"v":5200},{"t":9.8,"v":2350},{"t":10.2,"v":4950},{"t":10.6,"v":2600},{"t":11,"v":5650},{"t":11.4,"v":1900},{"t":11.8,"v":5150},
{"t":12.2,"v":2450},{"t":12.6,"v":5350},{"t":13,"v":2700},{"t":13.4,"v":5050},{"t":13.8,"v":2300},{"t":14.2,"v":5500},{"t":14.6,"v":2550},{"t":15,"v":5250},{"t":15.4,"v":2400},{"t":15.8,"v":5800},
{"t":16.2,"v":2600},{"t":16.6,"v":5000},{"t":17,"v":2100},{"t":17.4,"v":5450},{"t":17.8,"v":2500},{"t":18.2,"v":5150},{"t":18.6,"v":2350},{"t":19,"v":5600},{"t":19.4,"v":2650},{"t":19.8,"v":4900},
{"t":20.2,"v":2250},{"t":20.6,"v":5300},{"t":21,"v":2550},{"t":21.4,"v":5700},{"t":21.8,"v":2450},{"t":22.2,"v":5050},{"t":22.6,"v":2000},{"t":23,"v":5400},{"t":23.4,"v":2600},{"t":23.8,"v":5200},
{"t":24.2,"v":2400},{"t":24.6,"v":5550},{"t":25,"v":2700},{"t":25.4,"v":4950},{"t":25.8,"v":2300},{"t":26.2,"v":5350},{"t":26.6,"v":2500},{"t":27,"v":5150},{"t":27.4,"v":2150},{"t":27.8,"v":5650},
{"t":28.2,"v":2550},{"t":28.6,"v":5100},{"t":29,"v":2350},{"t":29.4,"v":5450},{"t":29.8,"v":2650},{"t":30.2,"v":5000},{"t":30.6,"v":2450},{"t":31,"v":5750},{"t":31.4,"v":2250},{"t":31.8,"v":5250},
{"t":32.2,"v":2600},{"t":32.6,"v":4950},{"t":33,"v":2050},{"t":33.4,"v":5500},{"t":33.8,"v":2400},{"t":34.2,"v":5200},{"t":34.6,"v":2700},{"t":35,"v":5350},{"t":35.4,"v":2500},{"t":35.8,"v":5050},
{"t":36.2,"v":2300},{"t":36.6,"v":5600},{"t":37,"v":2550},{"t":37.4,"v":5100},{"t":37.8,"v":2150},{"t":38.2,"v":5400},{"t":38.6,"v":2600},{"t":39,"v":4900},{"t":39.4,"v":2450},{"t":39.8,"v":5700},
{"t":40.2,"v":2650},{"t":40.6,"v":5250},{"t":41,"v":2350},{"t":41.4,"v":5000},{"t":41.8,"v":2500},{"t":42.2,"v":5550},{"t":42.6,"v":1950},{"t":43,"v":5150},{"t":43.4,"v":2400},{"t":43.8,"v":5350},
{"t":44.2,"v":2550},{"t":44.6,"v":4950},{"t":45,"v":2700},{"t":45.4,"v":5450},{"t":45.8,"v":2250},{"t":46.2,"v":5100},{"t":46.6,"v":2600},{"t":47,"v":5650},{"t":47.4,"v":2400},{"t":47.8,"v":5000},
{"t":48.2,"v":2200},{"t":48.6,"v":5300},{"t":49,"v":2550},{"t":49.4,"v":5150},{"t":49.8,"v":2650},{"t":50.2,"v":4900},{"t":50.6,"v":2350},{"t":51,"v":5450},{"t":51.4,"v":2500},{"t":51.8,"v":5100},
{"t":52.2,"v":2600},{"t":52.6,"v":5200},{"t":53,"v":2100},{"t":53.4,"v":5550},{"t":53.8,"v":2450},{"t":54.2,"v":4950},{"t":54.6,"v":2700},{"t":55,"v":5350},{"t":55.4,"v":2300},{"t":55.8,"v":5050}],
"c0":[{"t":-8,"lo":680,"hi":1300},{"t":-6,"lo":660,"hi":1340},{"t":-4,"lo":690,"hi":1360},{"t":-2,"lo":650,"hi":1350},{"t":0,"lo":680,"hi":1370},{"t":2,"lo":660,"hi":1360},{"t":4,"lo":700,"hi":1380},{"t":6,"lo":670,"hi":1350},{"t":8,"lo":650,"hi":1370},{"t":10,"lo":680,"hi":1360},{"t":12,"lo":660,"hi":1380},{"t":14,"lo":690,"hi":1350},{"t":16,"lo":650,"hi":1360},{"t":18,"lo":670,"hi":1340},{"t":20,"lo":660,"hi":1350},{"t":22,"lo":640,"hi":1320},{"t":24,"lo":670,"hi":1340},{"t":26,"lo":650,"hi":1310},{"t":28,"lo":630,"hi":1330},{"t":30,"lo":660,"hi":1300},{"t":32,"lo":640,"hi":1320},{"t":34,"lo":620,"hi":1290},{"t":36,"lo":650,"hi":1280},{"t":38,"lo":630,"hi":1300},{"t":40,"lo":610,"hi":1270},{"t":42,"lo":640,"hi":1260},{"t":44,"lo":600,"hi":1230},{"t":46,"lo":620,"hi":1240},{"t":48,"lo":590,"hi":1210},{"t":50,"lo":610,"hi":1230},{"t":52,"lo":580,"hi":1200},{"t":54,"lo":600,"hi":1210},{"t":56,"lo":590,"hi":1190}],
"c1":[{"t":-8,"lo":330,"hi":780},{"t":-6,"lo":310,"hi":810},{"t":-4,"lo":340,"hi":800},{"t":-2,"lo":320,"hi":820},{"t":0,"lo":300,"hi":810},{"t":2,"lo":330,"hi":830},{"t":4,"lo":310,"hi":800},{"t":6,"lo":320,"hi":820},{"t":8,"lo":300,"hi":840},{"t":10,"lo":330,"hi":810},{"t":12,"lo":310,"hi":820},{"t":14,"lo":320,"hi":800},{"t":16,"lo":300,"hi":810},{"t":18,"lo":330,"hi":790},{"t":20,"lo":310,"hi":810},{"t":22,"lo":320,"hi":800},{"t":24,"lo":300,"hi":820},{"t":26,"lo":330,"hi":790},{"t":28,"lo":310,"hi":810},{"t":30,"lo":320,"hi":800},{"t":32,"lo":300,"hi":790},{"t":34,"lo":330,"hi":810},{"t":36,"lo":310,"hi":790},{"t":38,"lo":320,"hi":800},{"t":40,"lo":300,"hi":780},{"t":42,"lo":330,"hi":800},{"t":44,"lo":310,"hi":790},{"t":46,"lo":320,"hi":810},{"t":48,"lo":300,"hi":780},{"t":50,"lo":330,"hi":800},{"t":52,"lo":310,"hi":790},{"t":54,"lo":320,"hi":800},{"t":56,"lo":310,"hi":780}],
"c2":[{"t":-8,"lo":420,"hi":1070},{"t":-6,"lo":400,"hi":1110},{"t":-4,"lo":430,"hi":1130},{"t":-2,"lo":390,"hi":1100},{"t":0,"lo":410,"hi":1120},{"t":2,"lo":380,"hi":1140},{"t":4,"lo":420,"hi":1110},{"t":6,"lo":400,"hi":1130},{"t":8,"lo":380,"hi":1150},{"t":10,"lo":410,"hi":1120},{"t":12,"lo":390,"hi":1140},{"t":14,"lo":420,"hi":1110},{"t":16,"lo":380,"hi":1130},{"t":18,"lo":400,"hi":1100},{"t":20,"lo":410,"hi":1120},{"t":22,"lo":390,"hi":1110},{"t":24,"lo":420,"hi":1130},{"t":26,"lo":380,"hi":1100},{"t":28,"lo":400,"hi":1120},{"t":30,"lo":410,"hi":1110},{"t":32,"lo":390,"hi":1130},{"t":34,"lo":420,"hi":1100},{"t":36,"lo":380,"hi":1120},{"t":38,"lo":400,"hi":1110},{"t":40,"lo":410,"hi":1130},{"t":42,"lo":390,"hi":1100},{"t":44,"lo":420,"hi":1120},{"t":46,"lo":400,"hi":1110},{"t":48,"lo":380,"hi":1130},{"t":50,"lo":410,"hi":1100},{"t":52,"lo":390,"hi":1120},{"t":54,"lo":400,"hi":1110},{"t":56,"lo":410,"hi":1090}],
"c3":[{"t":-8,"lo":980,"hi":2000},{"t":-6,"lo":960,"hi":2040},{"t":-4,"lo":990,"hi":2060},{"t":-2,"lo":950,"hi":2030},{"t":0,"lo":970,"hi":2070},{"t":2,"lo":940,"hi":2050},{"t":4,"lo":980,"hi":2080},{"t":6,"lo":960,"hi":2040},{"t":8,"lo":940,"hi":2060},{"t":10,"lo":970,"hi":2090},{"t":12,"lo":950,"hi":2050},{"t":14,"lo":980,"hi":2070},{"t":16,"lo":940,"hi":2040},{"t":18,"lo":960,"hi":2060},{"t":20,"lo":970,"hi":2030},{"t":22,"lo":950,"hi":2050},{"t":24,"lo":980,"hi":2070},{"t":26,"lo":940,"hi":2040},{"t":28,"lo":960,"hi":2060},{"t":30,"lo":970,"hi":2030},{"t":32,"lo":950,"hi":2050},{"t":34,"lo":980,"hi":2070},{"t":36,"lo":940,"hi":2040},{"t":38,"lo":960,"hi":2060},{"t":40,"lo":970,"hi":2030},{"t":42,"lo":950,"hi":2050},{"t":44,"lo":980,"hi":2040},{"t":46,"lo":940,"hi":2060},{"t":48,"lo":960,"hi":2030},{"t":50,"lo":970,"hi":2050},{"t":52,"lo":950,"hi":2040},{"t":54,"lo":980,"hi":2060},{"t":56,"lo":960,"hi":2020}],
"c4":[{"t":-8,"lo":2800,"hi":4300},{"t":-6,"lo":2750,"hi":4400},{"t":-4,"lo":2730,"hi":4450},{"t":-2,"lo":2770,"hi":4430},{"t":0,"lo":2710,"hi":4470},{"t":2,"lo":2750,"hi":4500},{"t":4,"lo":2720,"hi":4480},{"t":6,"lo":2760,"hi":4510},{"t":8,"lo":2700,"hi":4530},{"t":10,"lo":2740,"hi":4550},{"t":12,"lo":2770,"hi":4520},{"t":14,"lo":2720,"hi":4540},{"t":16,"lo":2750,"hi":4560},{"t":18,"lo":2730,"hi":4530},{"t":20,"lo":2760,"hi":4550},{"t":22,"lo":2710,"hi":4520},{"t":24,"lo":2740,"hi":4540},{"t":26,"lo":2770,"hi":4510},{"t":28,"lo":2720,"hi":4530},{"t":30,"lo":2750,"hi":4550},{"t":32,"lo":2730,"hi":4510},{"t":34,"lo":2700,"hi":4490},{"t":36,"lo":2750,"hi":4520},{"t":38,"lo":2720,"hi":4500},{"t":40,"lo":2740,"hi":4480},{"t":42,"lo":2710,"hi":4510},{"t":44,"lo":2750,"hi":4470},{"t":46,"lo":2720,"hi":4490},{"t":48,"lo":2740,"hi":4460},{"t":50,"lo":2700,"hi":4480},{"t":52,"lo":2730,"hi":4450},{"t":54,"lo":2710,"hi":4470},{"t":56,"lo":2740,"hi":4430}]
},
"vconcat":[
{"width":604,"height":89.7,
"title":{"text":"ae501007010_20060827034239_wam0_bst_4band_nobin.qdp"},
"layer":[
{"data":{"name":"c0"},"mark":{"type":"area","color":"#ff0000","clip":true},
"encoding":{"x":{"field":"t","type":"quantitative","scale":{"domain":[-9.47,57.57],"nice":false,"zero":false},
"axis":{"orient":"bottom","values":[-8,-6,-4,-2,0,2,4,6,8,10,12,14,16,18,20,22,24,26,28,30,32,34,36,38,40,42,44,46,48,50,52,54,56],"labels":false,"title":null,"tickSize":{"condition":{"test":"datum.value % 10 === 0","value":-7},"value":-4}}},
"y":{"field":"lo","type":"quantitative","scale":{"domain":[28,1978],"nice":false,"zero":false},
"axis":{"orient":"left","values":[100,200,300,400,500,600,700,800,900,1000,1100,1200,1300,1400,1500,1600,1700,1800,1900],"labelExpr":"datum.value % 500 === 0 ? datum.label : ''","labelPadding":18,"title":null,"tickSize":{"condition":{"test":"datum.value % 500 === 0","value":-7},"value":-4}}},
"y2":{"field":"hi"}}},
{"data":{"name":"th0"},"mark":{"type":"line","color":"#ff0000","strokeWidth":1,"clip":true},
"encoding":{"x":{"field":"t","type":"quantitative","scale":{"domain":[-9.47,57.57],"nice":false,"zero":false},
"axis":{"orient":"top","values":[-8,-6,-4,-2,0,2,4,6,8,10,12,14,16,18,20,22,24,26,28,30,32,34,36,38,40,42,44,46,48,50,52,54,56],"labels":false,"title":null,"tickSize":{"condition":{"test":"datum.value % 10 === 0","value":-7},"value":-4}}},
"y":{"field":"v","type":"quantitative","scale":{"domain":[28,1978],"nice":false,"zero":false},
"axis":{"orient":"right","values":[100,200,300,400,500,600,700,800,900,1000,1100,1200,1300,1400,1500,1600,1700,1800,1900],"labels":false,"title":null,"tickSize":{"condition":{"test":"datum.value % 500 === 0","value":-7},"value":-4}}}}},
{"data":{"name":"th0b"},"mark":{"type":"line","color":"#ff0000","strokeWidth":1,"clip":true},
"encoding":{"x":{"field":"t","type":"quantitative","axis":null},"y":{"field":"v","type":"quantitative","axis":null}}},
{"data":{"values":[{"name":"TH0"}]},"mark":{"type":"text"},
"encoding":{"x":{"datum":56.7,"axis":null},"y":{"datum":1617,"axis":null},"text":{"field":"name"}}}
],
"resolve":{"axis":{"x":"independent","y":"independent"}}},

{"width":604,"height":89.7,
"layer":[
{"data":{"name":"c1"},"mark":{"type":"area","color":"#00ff00","clip":true},
"encoding":{"x":{"field":"t","type":"quantitative","scale":{"domain":[-9.47,57.57],"nice":false,"zero":false},
"axis":{"orient":"bottom","values":[-8,-6,-4,-2,0,2,4,6,8,10,12,14,16,18,20,22,24,26,28,30,32,34,36,38,40,42,44,46,48,50,52,54,56],"labels":false,"title":null,"tickSize":{"condition":{"test":"datum.value % 10 === 0","value":-7},"value":-4}}},
"y":{"field":"lo","type":"quantitative","scale":{"domain":[-32,1383],"nice":false,"zero":false},
"axis":{"orient":"left","values":[0,100,200,300,400,500,600,700,800,900,1000,1100,1200,1300],"labelExpr":"datum.value % 500 === 0 ? datum.label : ''","labelPadding":18,"title":null,"tickSize":{"condition":{"test":"datum.value % 500 === 0","value":-7},"value":-4}}},
"y2":{"field":"hi"}}},
{"data":{"name":"th1"},"mark":{"type":"line","color":"#00ff00","strokeWidth":1,"clip":true},
"encoding":{"x":{"field":"t","type":"quantitative","scale":{"domain":[-9.47,57.57],"nice":false,"zero":false},
"axis":{"orient":"top","values":[-8,-6,-4,-2,0,2,4,6,8,10,12,14,16,18,20,22,24,26,28,30,32,34,36,38,40,42,44,46,48,50,52,54,56],"labels":false,"title":null,"tickSize":{"condition":{"test":"datum.value % 10 === 0","value":-7},"value":-4}}},
"y":{"field":"v","type":"quantitative","scale":{"domain":[-32,1383],"nice":false,"zero":false},
"axis":{"orient":"right","values":[0,100,200,300,400,500,600,700,800,900,1000,1100,1200,1300],"labels":false,"title":null,"tickSize":{"condition":{"test":"datum.value % 500 === 0","value":-7},"value":-4}}}}},
{"data":{"name":"th1b"},"mark":{"type":"line","color":"#00ff00","strokeWidth":1,"clip":true},
"encoding":{"x":{"field":"t","type":"quantitative","axis":null},"y":{"field":"v","type":"quantitative","axis":null}}},
{"data":{"values":[{"name":"TH1"}]},"mark":{"type":"text"},
"encoding":{"x":{"datum":56.7,"axis":null},"y":{"datum":1121,"axis":null},"text":{"field":"name"}}}
],
"resolve":{"axis":{"x":"independent","y":"independent"}}},

{"width":604,"height":89.7,
"layer":[
{"data":{"name":"c2"},"mark":{"type":"area","color":"#0000ff","clip":true},
"encoding":{"x":{"field":"t","type":"quantitative","scale":{"domain":[-9.47,57.57],"nice":false,"zero":false},
"axis":{"orient":"bottom","values":[-8,-6,-4,-2,0,2,4,6,8,10,12,14,16,18,20,22,24,26,28,30,32,34,36,38,40,42,44,46,48,50,52,54,56],"labels":false,"title":null,"tickSize":{"condition":{"test":"datum.value % 10 === 0","value":-7},"value":-4}}},
"y":{"field":"lo","type":"quantitative","scale":{"domain":[98,1729],"nice":false,"zero":false},
"axis":{"orient":"left","values":[100,200,300,400,500,600,700,800,900,1000,1100,1200,1300,1400,1500,1600,1700],"labelExpr":"datum.value % 500 === 0 ? datum.label : ''","labelPadding":18,"title":"Counts/sec","titlePadding":14,"tickSize":{"condition":{"test":"datum.value % 500 === 0","value":-7},"value":-4}}},
"y2":{"field":"hi"}}},
{"data":{"name":"th2"},"mark":{"type":"line","color":"#0000ff","strokeWidth":1,"clip":true},
"encoding":{"x":{"field":"t","type":"quantitative","scale":{"domain":[-9.47,57.57],"nice":false,"zero":false},
"axis":{"orient":"top","values":[-8,-6,-4,-2,0,2,4,6,8,10,12,14,16,18,20,22,24,26,28,30,32,34,36,38,40,42,44,46,48,50,52,54,56],"labels":false,"title":null,"tickSize":{"condition":{"test":"datum.value % 10 === 0","value":-7},"value":-4}}},
"y":{"field":"v","type":"quantitative","scale":{"domain":[98,1729],"nice":false,"zero":false},
"axis":{"orient":"right","values":[100,200,300,400,500,600,700,800,900,1000,1100,1200,1300,1400,1500,1600,1700],"labels":false,"title":null,"tickSize":{"condition":{"test":"datum.value % 500 === 0","value":-7},"value":-4}}}}},
{"data":{"name":"th2b"},"mark":{"type":"line","color":"#0000ff","strokeWidth":1,"clip":true},
"encoding":{"x":{"field":"t","type":"quantitative","axis":null},"y":{"field":"v","type":"quantitative","axis":null}}},
{"data":{"values":[{"name":"TH2"}]},"mark":{"type":"text"},
"encoding":{"x":{"datum":56.7,"axis":null},"y":{"datum":1427,"axis":null},"text":{"field":"name"}}}
],
"resolve":{"axis":{"x":"independent","y":"independent"}}},

{"width":604,"height":89.7,
"layer":[
{"data":{"name":"c3"},"mark":{"type":"area","color":"#00ffff","clip":true},
"encoding":{"x":{"field":"t","type":"quantitative","scale":{"domain":[-9.47,57.57],"nice":false,"zero":false},
"axis":{"orient":"bottom","values":[-8,-6,-4,-2,0,2,4,6,8,10,12,14,16,18,20,22,24,26,28,30,32,34,36,38,40,42,44,46,48,50,52,54,56],"labels":false,"title":null,"tickSize":{"condition":{"test":"datum.value % 10 === 0","value":-7},"value":-4}}},
"y":{"field":"lo","type":"quantitative","scale":{"domain":[369,2717],"nice":false,"zero":false},
"axis":{"orient":"left","values":[400,500,600,700,800,900,1000,1100,1200,1300,1400,1500,1600,1700,1800,1900,2000,2100,2200,2300,2400,2500,2600,2700],"labelExpr":"datum.value % 500 === 0 ? datum.label : ''","labelPadding":18,"title":null,"tickSize":{"condition":{"test":"datum.value % 500 === 0","value":-7},"value":-4}}},
"y2":{"field":"hi"}}},
{"data":{"name":"th3"},"mark":{"type":"line","color":"#00ffff","strokeWidth":1,"clip":true},
"encoding":{"x":{"field":"t","type":"quantitative","scale":{"domain":[-9.47,57.57],"nice":false,"zero":false},
"axis":{"orient":"top","values":[-8,-6,-4,-2,0,2,4,6,8,10,12,14,16,18,20,22,24,26,28,30,32,34,36,38,40,42,44,46,48,50,52,54,56],"labels":false,"title":null,"tickSize":{"condition":{"test":"datum.value % 10 === 0","value":-7},"value":-4}}},
"y":{"field":"v","type":"quantitative","scale":{"domain":[369,2717],"nice":false,"zero":false},
"axis":{"orient":"right","values":[400,500,600,700,800,900,1000,1100,1200,1300,1400,1500,1600,1700,1800,1900,2000,2100,2200,2300,2400,2500,2600,2700],"labels":false,"title":null,"tickSize":{"condition":{"test":"datum.value % 500 === 0","value":-7},"value":-4}}}}},
{"data":{"name":"th3b"},"mark":{"type":"line","color":"#00ffff","strokeWidth":1,"clip":true},
"encoding":{"x":{"field":"t","type":"quantitative","axis":null},"y":{"field":"v","type":"quantitative","axis":null}}},
{"data":{"values":[{"name":"TH3"}]},"mark":{"type":"text"},
"encoding":{"x":{"datum":56.7,"axis":null},"y":{"datum":2282,"axis":null},"text":{"field":"name"}}}
],
"resolve":{"axis":{"x":"independent","y":"independent"}}},

{"width":604,"height":89.7,
"layer":[
{"data":{"name":"c4"},"mark":{"type":"area","color":"#ff00ff","clip":true},
"encoding":{"x":{"field":"t","type":"quantitative","scale":{"domain":[-9.47,57.57],"nice":false,"zero":false},
"axis":{"orient":"bottom","values":[-8,-6,-4,-2,0,2,4,6,8,10,12,14,16,18,20,22,24,26,28,30,32,34,36,38,40,42,44,46,48,50,52,54,56],"labelExpr":"datum.value % 10 === 0 ? datum.label : ''","labelPadding":12,"title":"Time [sec] 0 = 2006/08/27 03:42:39.136","titlePadding":0,"tickSize":{"condition":{"test":"datum.value % 10 === 0","value":-7},"value":-4}}},
"y":{"field":"lo","type":"quantitative","scale":{"domain":[1625,5836],"nice":false,"zero":false},
"axis":{"orient":"left","values":[1800,2000,2200,2400,2600,2800,3000,3200,3400,3600,3800,4000,4200,4400,4600,4800,5000,5200,5400,5600,5800],"labelExpr":"datum.value % 1000 === 0 ? datum.label : ''","labelPadding":18,"title":null,"tickSize":{"condition":{"test":"datum.value % 1000 === 0","value":-7},"value":-4}}},
"y2":{"field":"hi"}}},
{"data":{"name":"th4"},"mark":{"type":"line","color":"#ff00ff","strokeWidth":1,"clip":true},
"encoding":{"x":{"field":"t","type":"quantitative","scale":{"domain":[-9.47,57.57],"nice":false,"zero":false},
"axis":{"orient":"top","values":[-8,-6,-4,-2,0,2,4,6,8,10,12,14,16,18,20,22,24,26,28,30,32,34,36,38,40,42,44,46,48,50,52,54,56],"labels":false,"title":null,"tickSize":{"condition":{"test":"datum.value % 10 === 0","value":-7},"value":-4}}},
"y":{"field":"v","type":"quantitative","scale":{"domain":[1625,5836],"nice":false,"zero":false},
"axis":{"orient":"right","values":[1800,2000,2200,2400,2600,2800,3000,3200,3400,3600,3800,4000,4200,4400,4600,4800,5000,5200,5400,5600,5800],"labels":false,"title":null,"tickSize":{"condition":{"test":"datum.value % 1000 === 0","value":-7},"value":-4}}}}},
{"data":{"name":"th4b"},"mark":{"type":"line","color":"#ff00ff","strokeWidth":1,"clip":true},
"encoding":{"x":{"field":"t","type":"quantitative","axis":null},"y":{"field":"v","type":"quantitative","axis":null}}},
{"data":{"values":[{"name":"TH0123"}]},"mark":{"type":"text"},
"encoding":{"x":{"datum":56.7,"axis":null},"y":{"datum":5057,"axis":null},"text":{"field":"name"}}}
],
"resolve":{"axis":{"x":"independent","y":"independent"}}}
]
}
